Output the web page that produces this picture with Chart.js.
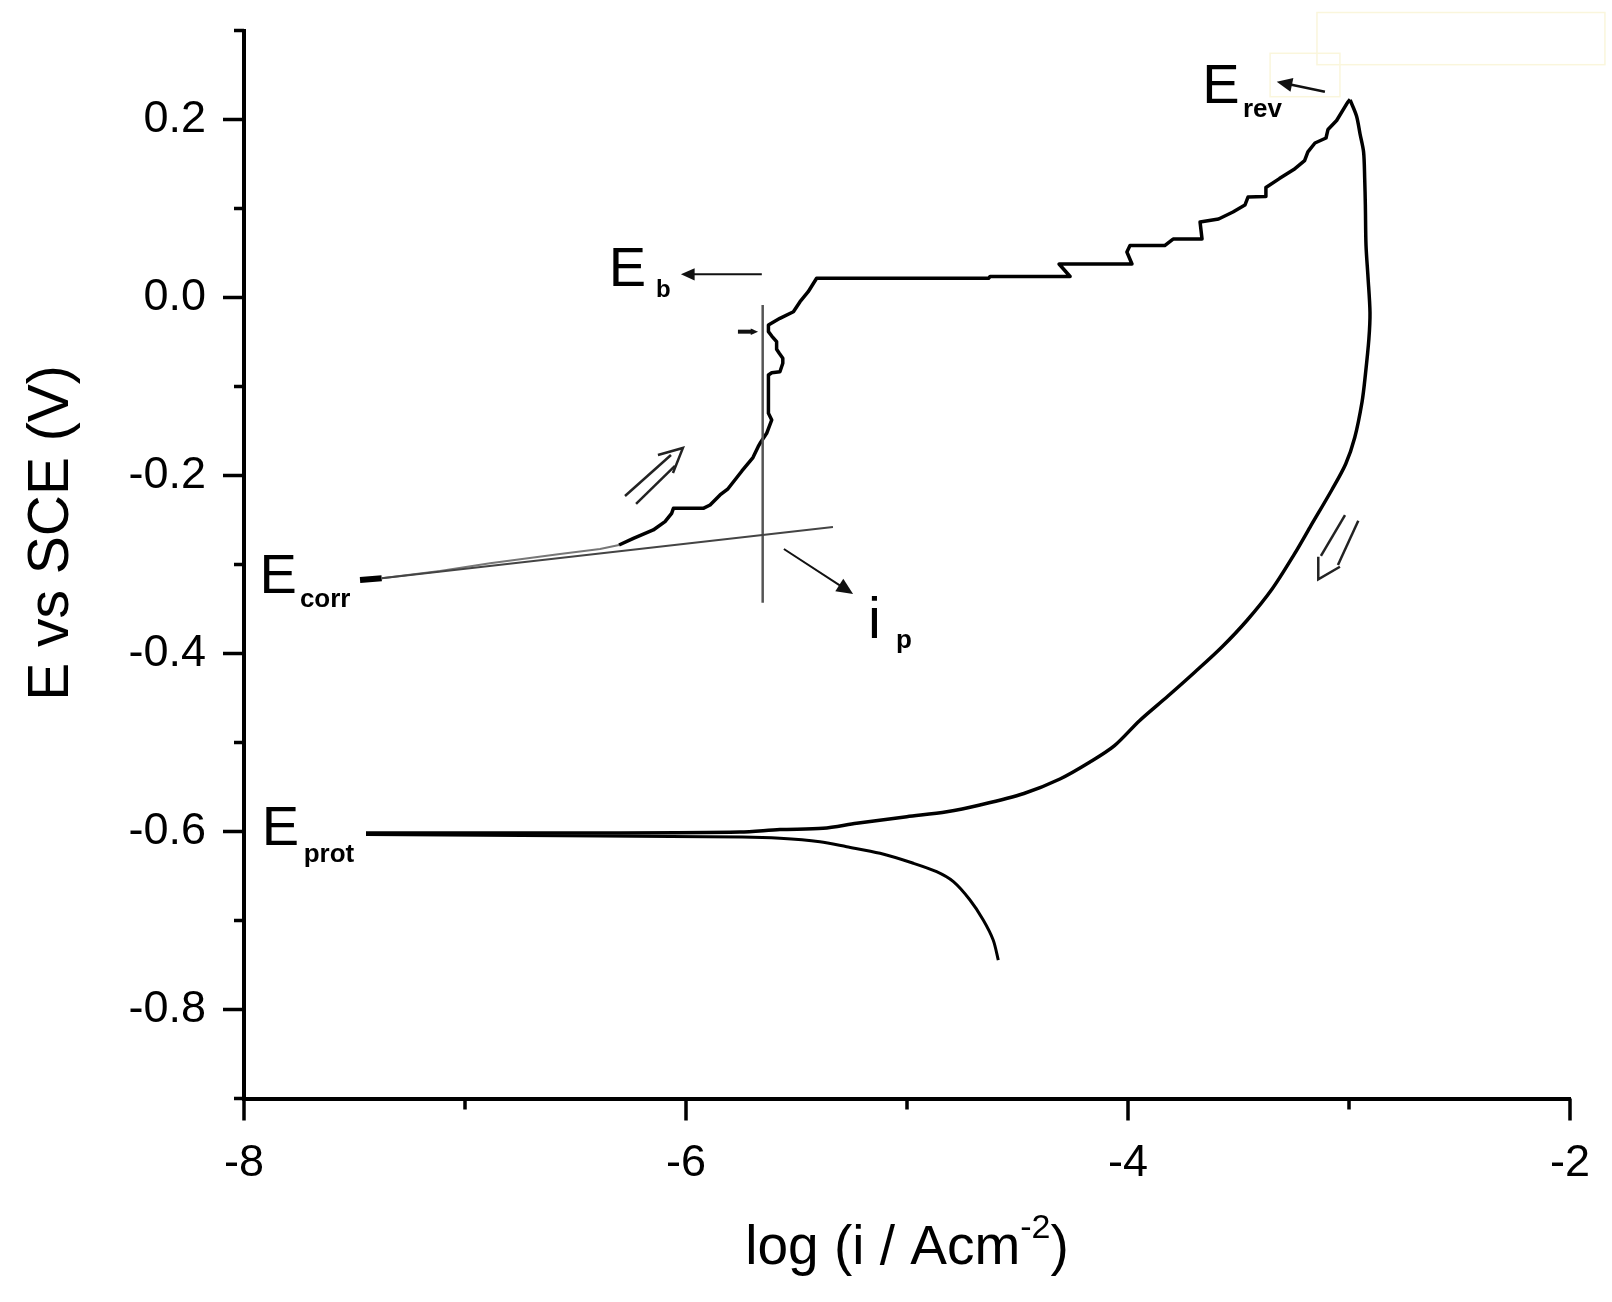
<!DOCTYPE html>
<html>
<head>
<meta charset="utf-8">
<script src="https://cdn.jsdelivr.net/npm/chart.js@4.4.1/dist/chart.umd.min.js"></script>
<style>
  html, body { margin: 0; padding: 0; background: #fff; }
  canvas { display: block; }
</style>
</head>
<body>
<canvas id="polar-chart" width="1612" height="1302"></canvas>
<script>
// cyclic polarisation curve, log(i) vs E (V vs SCE)

// forward scan: Ecorr -> passive range -> breakdown -> Erev
const forwardLogI = [-7.475,-7.377,-7.113,-6.887,-6.570,-6.389,-6.303,-6.238,-6.148,-6.095,-6.065,-6.057,-5.922,-5.891,-5.846,-5.810,-5.747,-5.697,-5.673,-5.665,-5.635,-5.612,-5.627,-5.627,-5.612,-5.575,-5.562,-5.562,-5.578,-5.590,-5.590,-5.612,-5.627,-5.627,-5.575,-5.514,-5.484,-5.447,-5.409,-4.631,-4.624,-4.262,-4.312,-3.982,-4.005,-3.991,-3.834,-3.796,-3.665,-3.674,-3.590,-3.525,-3.471,-3.457,-3.380,-3.376,-3.315,-3.250,-3.201,-3.186,-3.154,-3.104,-3.095,-3.056,-3.007,-2.995]
const forwardE = [-0.3174,-0.3155,-0.3073,-0.2987,-0.2882,-0.2826,-0.2781,-0.2706,-0.2612,-0.2519,-0.2425,-0.2369,-0.2369,-0.2331,-0.2219,-0.2149,-0.1949,-0.1799,-0.1673,-0.1638,-0.1526,-0.1376,-0.1301,-0.0871,-0.0845,-0.0834,-0.0739,-0.0683,-0.0627,-0.0582,-0.0497,-0.0433,-0.0384,-0.0309,-0.0234,-0.0160,-0.0047,0.0065,0.0216,0.0216,0.0236,0.0236,0.0376,0.0376,0.0511,0.0584,0.0584,0.0657,0.0657,0.0848,0.0882,0.0961,0.1039,0.1129,0.1136,0.1236,0.1336,0.1437,0.1537,0.1637,0.1736,0.1792,0.1888,0.1989,0.2189,0.2225]

// reverse scan: Erev -> Eprot
const reverseLogI = [-2.995,-2.966,-2.950,-2.934,-2.929,-2.926,-2.923,-2.914,-2.905,-2.910,-2.926,-2.941,-2.974,-3.015,-3.078,-3.176,-3.246,-3.348,-3.462,-3.575,-3.697,-3.819,-3.948,-4.061,-4.172,-4.308,-4.471,-4.670,-4.820,-5.001,-5.228,-5.380,-5.575,-5.756,-6.389,-7.068,-7.448]
const reverseE = [0.2219,0.2039,0.1837,0.1635,0.1336,0.1039,0.0584,0.0230,-0.0169,-0.0466,-0.0871,-0.1174,-0.1573,-0.1871,-0.2163,-0.2579,-0.2878,-0.3275,-0.3629,-0.3927,-0.4208,-0.4478,-0.4755,-0.5035,-0.5219,-0.5410,-0.5573,-0.5702,-0.5778,-0.5834,-0.5908,-0.5964,-0.5978,-0.6006,-0.6017,-0.6017,-0.6017]

// cathodic branch below Eprot
const cathodicLogI = [-7.448,-6.389,-5.747,-5.575,-5.394,-5.273,-5.122,-4.971,-4.866,-4.790,-4.715,-4.655,-4.610,-4.587]
const cathodicE = [-0.6034,-0.6051,-0.6062,-0.6076,-0.6115,-0.6171,-0.6245,-0.6357,-0.6452,-0.6564,-0.6770,-0.6994,-0.7219,-0.7444]

// construction lines for i_p
const tangentLogI = [-7.377, -5.335]
const tangentE = [-0.3155, -0.2579]
const ipLineLogI = [-5.653, -5.653]
const ipLineE = [-0.0084, -0.3429]

// axes
const xTicks = [-8, -6, -4, -2]
const xMinorTicks = [-7, -5, -3]
const yTicks = [-0.8, -0.6, -0.4, -0.2, 0.0, 0.2]
const yMinorTicks = [-0.9, -0.7, -0.5, -0.3, -0.1, 0.1, 0.3]

const xTitle = 'log (i / Acm'
const xTitleSup = '-2'
const yTitle = 'E vs SCE (V)'

// labels on the plot (data coords)
const notes = [
  { text: 'E', x: -7.930, y: -0.3317, size: 56 },
  { text: 'corr', x: -7.747, y: -0.3481, size: 26, bold: true },
  { text: 'E', x: -7.920, y: -0.6152, size: 56 },
  { text: 'prot', x: -7.730, y: -0.6343, size: 26, bold: true },
  { text: 'E', x: -6.350, y: 0.0129, size: 56 },
  { text: 'b', x: -6.136, y: 0.0006, size: 24, bold: true },
  { text: 'E', x: -3.664, y: 0.2182, size: 56 },
  { text: 'rev', x: -3.480, y: 0.2025, size: 26, bold: true },
  { text: 'i', x: -5.176, y: -0.3826, size: 58 },
  { text: 'p', x: -5.050, y: -0.3938, size: 26, bold: true }
]
const arrows = [
  { from: [-5.657, 0.0261], to: [-6.023, 0.0261], w: 2, head: 15 },
  { from: [-5.557, -0.2826], to: [-5.244, -0.3331], w: 2, head: 18 },
  { from: [-3.109, 0.2312], to: [-3.327, 0.2425], w: 2.5, head: 17 },
  { from: [-5.765, -0.0384], to: [-5.674, -0.0384], w: 4, head: 8 }
]
const scanArrows = [
  [[-6.276,-0.2230],[-6.068,-0.1770]], [[-6.226,-0.2320],[-6.050,-0.1893]], [[-6.127,-0.1770],[-6.014,-0.1691],[-6.059,-0.1972]],
  [[-3.018,-0.2444],[-3.127,-0.2904]], [[-2.958,-0.2508],[-3.050,-0.3006]], [[-3.139,-0.2912],[-3.139,-0.3166],[-3.041,-0.3025]]
]
const paleBoxes = [[-3.357, 0.2744, -3.041, 0.2256], [-3.145, 0.3202, -1.842, 0.2616]]

const FONT = '"Liberation Sans", Arial, sans-serif'
const pts = (xs, ys) => xs.map((v, i) => ({ x: v, y: ys[i] }))

const extras = {
  id: 'extras',
  beforeDatasetsDraw(chart) {
    const { ctx, scales: { x, y } } = chart
    ctx.save()
    ctx.strokeStyle = '#faf6dc'
    ctx.lineWidth = 1.5
    paleBoxes.forEach(b => {
      const x0 = x.getPixelForValue(b[0]), y0 = y.getPixelForValue(b[1])
      const x1 = x.getPixelForValue(b[2]), y1 = y.getPixelForValue(b[3])
      ctx.strokeRect(x0, y0, x1 - x0, y1 - y0)
    })
    ctx.restore()
  },
  afterDraw(chart) {
    const { ctx, scales: { x, y }, chartArea } = chart
    const px = v => x.getPixelForValue(v)
    const py = v => y.getPixelForValue(v)
    ctx.save()

    // tick marks, major longer than minor
    ctx.strokeStyle = '#000'
    ctx.lineWidth = 3.5
    ctx.beginPath()
    yTicks.forEach(v => { ctx.moveTo(chartArea.left, py(v)); ctx.lineTo(chartArea.left - 21, py(v)) })
    yMinorTicks.forEach(v => { ctx.moveTo(chartArea.left, py(v)); ctx.lineTo(chartArea.left - 10, py(v)) })
    xTicks.forEach(v => { ctx.moveTo(px(v), chartArea.bottom); ctx.lineTo(px(v), chartArea.bottom + 22) })
    xMinorTicks.forEach(v => { ctx.moveTo(px(v), chartArea.bottom); ctx.lineTo(px(v), chartArea.bottom + 11) })
    ctx.stroke()

    // open double arrows showing scan direction
    ctx.strokeStyle = '#222'
    ctx.lineWidth = 2.5
    ctx.lineJoin = 'miter'
    scanArrows.forEach(line => {
      ctx.beginPath()
      line.forEach((p, i) => i ? ctx.lineTo(px(p[0]), py(p[1])) : ctx.moveTo(px(p[0]), py(p[1])))
      ctx.stroke()
    })

    // pointer arrows
    arrows.forEach(a => {
      const x0 = px(a.from[0]), y0 = py(a.from[1]), x1 = px(a.to[0]), y1 = py(a.to[1])
      const ang = Math.atan2(y1 - y0, x1 - x0)
      ctx.strokeStyle = '#111'
      ctx.fillStyle = '#111'
      ctx.lineWidth = a.w
      ctx.beginPath()
      ctx.moveTo(x0, y0)
      ctx.lineTo(x1 - Math.cos(ang) * a.head * 0.6, y1 - Math.sin(ang) * a.head * 0.6)
      ctx.stroke()
      ctx.beginPath()
      ctx.moveTo(x1, y1)
      ctx.lineTo(x1 - Math.cos(ang - 0.42) * a.head, y1 - Math.sin(ang - 0.42) * a.head)
      ctx.lineTo(x1 - Math.cos(ang + 0.42) * a.head, y1 - Math.sin(ang + 0.42) * a.head)
      ctx.closePath()
      ctx.fill()
    })

    // E / i labels with subscripts
    ctx.fillStyle = '#000'
    ctx.textAlign = 'left'
    ctx.textBaseline = 'alphabetic'
    notes.forEach(n => {
      ctx.font = (n.bold ? 'bold ' : '') + n.size + 'px ' + FONT
      ctx.fillText(n.text, px(n.x), py(n.y))
    })

    // x title with superscript
    const cx = (chartArea.left + chartArea.right) / 2
    const base = chartArea.bottom + 165
    ctx.font = '55px ' + FONT
    const w1 = ctx.measureText(xTitle).width
    const w3 = ctx.measureText(')').width
    ctx.font = '34px ' + FONT
    const w2 = ctx.measureText(xTitleSup).width
    let sx = cx - (w1 + w2 + w3) / 2
    ctx.font = '55px ' + FONT
    ctx.fillText(xTitle, sx, base)
    ctx.font = '34px ' + FONT
    ctx.fillText(xTitleSup, sx + w1, base - 26)
    ctx.font = '55px ' + FONT
    ctx.fillText(')', sx + w1 + w2, base)

    // y title, rotated
    ctx.translate(68, 533)
    ctx.rotate(-Math.PI / 2)
    ctx.textAlign = 'center'
    ctx.font = '57px ' + FONT
    ctx.fillText(yTitle, 0, 0)
    ctx.restore()
  }
}

new Chart('polar-chart', {
  type: 'scatter',
  data: {
    datasets: [
      {
        label: 'tangent',
        data: pts(tangentLogI, tangentE),
        showLine: true, borderColor: '#444', borderWidth: 2, pointRadius: 0
      },
      {
        label: 'i_p',
        data: pts(ipLineLogI, ipLineE),
        showLine: true, borderColor: '#555', borderWidth: 2.5, pointRadius: 0
      },
      {
        label: 'forward scan',
        data: pts(forwardLogI, forwardE),
        showLine: true, pointRadius: 0, borderColor: '#000', borderWidth: 3.5,
        borderJoinStyle: 'round',
        segment: {
          borderColor: c => (c.p0DataIndex >= 1 && c.p0DataIndex <= 5) ? '#777' : '#000',
          borderWidth: c => c.p0DataIndex === 0 ? 6 : (c.p0DataIndex <= 5 ? 2 : 3.5)
        }
      },
      {
        label: 'reverse scan',
        data: pts(reverseLogI, reverseE),
        showLine: true, pointRadius: 0, borderColor: '#000', borderWidth: 3.5,
        borderJoinStyle: 'round', tension: 0.3
      },
      {
        label: 'cathodic',
        data: pts(cathodicLogI, cathodicE),
        showLine: true, pointRadius: 0, borderColor: '#000', borderWidth: 3,
        borderJoinStyle: 'round', tension: 0.3
      }
    ]
  },
  options: {
    responsive: false,
    devicePixelRatio: 1,
    animation: false,
    layout: { padding: { top: 30.5, right: 42, left: 0, bottom: 0 } },
    plugins: { legend: { display: false }, tooltip: { enabled: false } },
    scales: {
      x: {
        type: 'linear', position: 'bottom', min: -8, max: -2,
        afterBuildTicks: s => { s.ticks = xTicks.map(v => ({ value: v })) },
        afterFit: s => { s.height = 203.5; s.paddingLeft = 0; s.paddingRight = 0 },
        ticks: { color: '#000', padding: 16, font: { family: FONT, size: 45 }, callback: v => String(v) },
        grid: { drawOnChartArea: false, drawTicks: true, tickLength: 22, color: 'rgba(0,0,0,0)' },
        border: { display: true, color: '#000', width: 4 }
      },
      y: {
        type: 'linear', position: 'left', min: -0.9, max: 0.3,
        afterBuildTicks: s => { s.ticks = yTicks.map(v => ({ value: v })) },
        afterFit: s => { s.width = 244; s.paddingTop = 0; s.paddingBottom = 0 },
        ticks: { color: '#000', padding: 17, font: { family: FONT, size: 45 }, callback: v => Number(v).toFixed(1) },
        grid: { drawOnChartArea: false, drawTicks: true, tickLength: 21, color: 'rgba(0,0,0,0)' },
        border: { display: true, color: '#000', width: 4 }
      }
    }
  },
  plugins: [extras]
})
</script>
</body>
</html>
